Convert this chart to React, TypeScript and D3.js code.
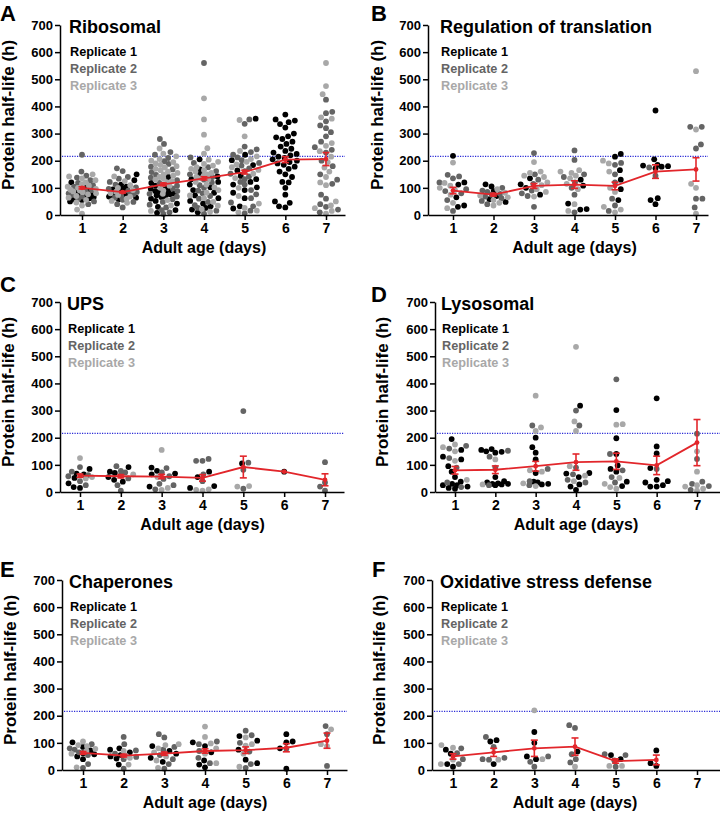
import { useEffect, useRef } from 'react';
import * as d3 from 'd3';

// ---- shared axis / legend values ----
const days = [1, 2, 3, 4, 5, 6, 7];
const yTicks = [0, 100, 200, 300, 400, 500, 600, 700];
const thresholdHours = 216;
const replicateLabels = ['Replicate 1', 'Replicate 2', 'Replicate 3'];
const replicateColors = ['#000000', '#646464', '#a8a8a8'];

// ---- A: Ribosomal (values per day, 1..7) ----
const ribosomalRep1 = [
  [120, 100, 92, 86, 80, 75, 70, 66, 62, 58, 55, 50],
  [150, 128, 112, 104, 98, 94, 90, 86, 82, 78, 75, 72, 68, 64, 58],
  [140, 118, 108, 102, 97, 92, 88, 85, 82, 79, 76, 73, 70, 66, 60, 52, 42, 30, 18, 8],
  [205, 168, 152, 142, 132, 122, 112, 102, 92, 82, 72, 62, 52, 42, 32, 26, 20, 10],
  [355, 222, 202, 184, 164, 144, 132, 122, 112, 102, 92, 82, 62, 32, 24],
  [370, 352, 348, 342, 335, 322, 300, 290, 286, 280, 270, 262, 252, 244, 236, 230, 225, 220, 215, 210, 205, 200, 195, 190, 185, 178, 170, 160, 150, 140, 122, 120, 100, 75, 50, 45, 32, 28],
  [],
];
const ribosomalRep2 = [
  [222, 160, 145, 138, 128, 118, 110, 104, 98, 92, 86, 80, 74, 68, 60, 50, 40],
  [172, 162, 140, 134, 122, 112, 102, 96, 90, 85, 80, 76, 70, 64, 56, 48, 40, 28],
  [280, 262, 232, 222, 210, 198, 188, 178, 168, 158, 148, 138, 128, 118, 108, 98, 88, 78, 68, 58, 48, 38, 28, 18, 10, 4],
  [560, 212, 192, 176, 162, 150, 140, 130, 120, 110, 100, 90, 80, 70, 60, 48, 36, 26, 16, 5],
  [352, 336, 252, 242, 232, 222, 212, 202, 192, 182, 172, 162, 152, 142, 132, 122, 112, 92, 76, 62, 46, 32, 16, 6],
  [],
  [425, 380, 375, 345, 330, 320, 305, 290, 270, 250, 240, 230, 200, 180, 150, 130, 115, 75, 60, 40, 30, 20, 10],
];
const ribosomalRep3 = [
  [150, 142, 135, 128, 120, 114, 108, 104, 100, 96, 93, 90, 87, 84, 80, 76, 70, 64, 56, 46, 35, 20, 5],
  [142, 125, 110, 100, 92, 86, 80, 74, 68, 60, 52, 45],
  [245, 226, 216, 206, 200, 195, 190, 185, 180, 175, 170, 165, 160, 155, 150, 145, 140, 135, 130, 125, 120, 114, 108, 100, 90, 78, 55, 35, 15],
  [430, 352, 296, 246, 226, 204, 196, 188, 182, 176, 170, 165, 160, 155, 150, 145, 140, 135, 130, 122, 112, 102, 92, 82, 72, 62, 48, 34, 22, 12],
  [350, 290, 236, 216, 206, 196, 186, 176, 166, 152, 136, 100, 70, 42, 26, 16, 10],
  [],
  [560, 475, 445, 360, 355, 265, 255, 235, 215, 195, 175, 160, 140, 120, 110, 50, 35, 25, 15, 5],
];
const ribosomalMean = [100, 84, 113, 135, 158, 204, 206];
const ribosomalSem = [4, 3, 5, 6, 7, 11, 24];

// ---- B: Regulation of translation ----
const translationRep1 = [
  [218, 120, 112, 65, 35, 30],
  [113, 105, 88, 70, 58, 48],
  [135, 113, 100, 75],
  [130, 108, 42, 22, 20],
  [225, 215, 165, 130, 95, 55],
  [385, 205, 185, 182, 180, 178, 172, 62, 55, 40],
  [],
];
const translationRep2 = [
  [148, 142, 135, 120, 95, 88, 80, 55, 15],
  [100, 90, 85, 78, 75, 68, 62, 52, 40],
  [228, 150, 130, 115, 90, 80, 70, 30],
  [238, 203, 150, 140, 120, 100, 75, 10],
  [192, 185, 150, 120, 60, 35, 15],
  [175, 145],
  [325, 325, 260, 245, 60, 60, 28],
];
const translationRep3 = [
  [193, 118, 108, 100, 92, 75, 45, 25],
  [95, 82, 72, 65, 55, 45, 35],
  [195, 160, 155, 145, 140, 120, 110, 95, 85, 68],
  [165, 160, 155, 145, 135, 115, 95, 40, 15],
  [200, 190, 160, 100, 85, 30, 20, 10],
  [],
  [530, 315, 115, 100, 5],
];
const translationMean = [90, 75, 107, 112, 107, 160, 168];
const translationSem = [12, 5, 9, 14, 14, 25, 43];

// ---- C: UPS ----
const upsRep1 = [
  [85, 68, 65, 52, 32, 18, 15],
  [92, 75, 70, 55, 45, 38],
  [90, 78, 68, 65, 20],
  [75, 55, 22, 15],
  [105],
  [75],
  [],
];
const upsRep2 = [
  [92, 75, 62, 58, 40, 25],
  [95, 78, 72, 62, 50, 25, 5],
  [88, 72, 58, 48, 30, 25, 10],
  [122, 115, 115, 65, 40],
  [298, 108, 82, 12],
  [],
  [110, 35, 5, 20],
];
const upsRep3 = [
  [125, 60, 55, 50],
  [65],
  [155, 55, 15, 8],
  [10, 8, 5],
  [22, 20],
  [],
  [],
];
const upsMean = [60, 58, 57, 52, 92, 75, 45];
const upsSem = [6, 6, 8, 12, 40, 0, 22];

// ---- D: Lysosomal ----
const lysosomalRep1 = [
  [195, 155, 130, 120, 95, 75, 55, 38, 30, 25, 25, 20, 15, 12],
  [158, 155, 150, 148, 145, 55, 40, 35, 32, 30, 30, 28, 25],
  [200, 165, 145, 120, 70, 38, 35, 30, 28],
  [318, 70, 68, 55, 28, 20, 8],
  [302, 198, 140, 98, 85, 75, 38, 22],
  [345, 168, 142, 88, 45, 40, 35, 25, 20, 20],
  [],
];
const lysosomalRep2 = [
  [170, 160, 125, 90, 35, 18],
  [152, 130, 90, 25],
  [245, 85, 40, 25],
  [300, 245, 90, 65, 45, 35],
  [415, 140, 80, 55, 35],
  [85],
  [215, 122, 38, 30, 22, 8],
];
const lysosomalRep3 = [
  [175, 165, 150, 115, 45],
  [120, 28],
  [355, 238, 225, 80, 75, 32, 22],
  [535, 260, 225, 95, 60, 40],
  [250, 248, 52, 30, 18, 12],
  [],
  [150, 75, 25, 20, 12, 5],
];
const lysosomalMean = [80, 82, 95, 110, 113, 98, 182];
const lysosomalSem = [14, 14, 18, 30, 30, 34, 85];

// ---- E: Chaperones ----
const chaperoneRep1 = [
  [102, 85, 72, 62, 58, 50, 40],
  [80, 75, 65, 55, 50, 42, 20],
  [88, 70, 60, 45, 30],
  [102, 88, 65, 35, 20, 10],
  [125, 108, 75, 38, 25],
  [132, 105, 102, 80, 5],
  [],
];
const chaperoneRep2 = [
  [95, 80, 75, 65, 55, 22, 8],
  [122, 95, 72, 60, 48, 40, 5],
  [132, 120, 85, 75, 55, 40, 22, 5],
  [105, 95, 70, 45, 25],
  [145, 128, 100, 68, 22, 8],
  [78],
  [162, 132, 15],
];
const chaperoneRep3 = [
  [105, 92, 88, 78, 70, 60, 10],
  [70, 52, 45, 20],
  [95, 92, 80, 65, 50, 35, 8],
  [160, 122, 98, 80, 60, 25],
  [120, 95, 90, 60, 12],
  [],
  [150, 95, 88],
];
const chaperoneMean = [63, 53, 60, 70, 73, 82, 108];
const chaperoneSem = [5, 5, 6, 8, 12, 15, 28];

// ---- F: Oxidative stress defense ----
const oxidativeRep1 = [
  [75, 60, 22, 12],
  [110, 105, 22],
  [140, 100, 50, 40],
  [68],
  [55, 40],
  [72, 25, 15],
  [],
];
const oxidativeRep2 = [
  [80, 62, 40, 22],
  [122, 85, 45, 40, 38],
  [50, 30, 12],
  [165, 155, 58, 40, 28],
  [58, 55, 35, 12],
  [],
  [],
];
const oxidativeRep3 = [
  [92, 82, 38, 22],
  [38],
  [220, 40],
  [12],
  [15, 15],
  [],
  [],
];
const oxidativeMean = [50, 65, 80, 86, 33, 37, null];
const oxidativeSem = [10, 15, 30, 32, 8, 18, null];

const FONT = '"Liberation Sans", Arial, Helvetica, sans-serif';
const RED = '#e2262b';
const R = 2.9;

type PanelCfg = {
  letter: string;
  title: string;
  reps: number[][][];
  mean: (number | null)[];
  sem: (number | null)[];
  ax: number;
  x1: number;
  x7: number;
  xEnd: number;
  y0: number;
  letterX: number;
  letterY: number;
  titleX: number;
  yTitleX: number;
};

const panels: PanelCfg[] = [
  { letter: 'A', title: 'Ribosomal', reps: [ribosomalRep1, ribosomalRep2, ribosomalRep3], mean: ribosomalMean, sem: ribosomalSem,
    ax: 60, x1: 82, x7: 326, xEnd: 345, y0: 215, letterX: 0, letterY: 20.5, titleX: 69, yTitleX: 14 },
  { letter: 'B', title: 'Regulation of translation', reps: [translationRep1, translationRep2, translationRep3], mean: translationMean, sem: translationSem,
    ax: 428, x1: 453, x7: 696, xEnd: 708, y0: 215, letterX: 371, letterY: 20.5, titleX: 440, yTitleX: 383 },
  { letter: 'C', title: 'UPS', reps: [upsRep1, upsRep2, upsRep3], mean: upsMean, sem: upsSem,
    ax: 60, x1: 80, x7: 325, xEnd: 344, y0: 492, letterX: 0, letterY: 292, titleX: 67, yTitleX: 14 },
  { letter: 'D', title: 'Lysosomal', reps: [lysosomalRep1, lysosomalRep2, lysosomalRep3], mean: lysosomalMean, sem: lysosomalSem,
    ax: 435, x1: 455, x7: 697, xEnd: 720, y0: 492, letterX: 371, letterY: 302, titleX: 441, yTitleX: 388 },
  { letter: 'E', title: 'Chaperones', reps: [chaperoneRep1, chaperoneRep2, chaperoneRep3], mean: chaperoneMean, sem: chaperoneSem,
    ax: 62, x1: 83, x7: 327, xEnd: 347, y0: 770, letterX: 0, letterY: 577, titleX: 69, yTitleX: 16 },
  { letter: 'F', title: 'Oxidative stress defense', reps: [oxidativeRep1, oxidativeRep2, oxidativeRep3], mean: oxidativeMean, sem: oxidativeSem,
    ax: 432, x1: 453, x7: 697, xEnd: 720, y0: 770, letterX: 372, letterY: 577, titleX: 440, yTitleX: 385 },
];

type Dot = { v: number; rep: number; x: number; y: number };

// simple deterministic beeswarm: place points (sorted by value) nearest to centre without overlap
function swarm(items: { v: number; rep: number }[], cx: number, y: (v: number) => number, maxW: number): Dot[] {
  const sorted = [...items].sort((a, b) => a.v - b.v);
  const placed: Dot[] = [];
  let lastSign = 1;
  sorted.forEach((it) => {
    const py = y(it.v);
    let chosen: number | null = null;
    for (let diam = 2.2 * R; diam > 1 && chosen === null; diam *= 0.8) {
      const near = placed.filter((p) => Math.abs(p.y - py) < diam);
      const cands = [0];
      near.forEach((p) => {
        const dx = Math.sqrt(diam * diam - (p.y - py) ** 2);
        cands.push(p.x - cx + dx, p.x - cx - dx);
      });
      const ok = cands.filter(
        (c) => Math.abs(c) <= maxW && near.every((p) => Math.hypot(p.x - (cx + c), p.y - py) >= diam - 0.01)
      );
      if (ok.length) {
        ok.sort((a, b) => Math.abs(a) - Math.abs(b) || (a * lastSign < b * lastSign ? -1 : 1));
        chosen = ok[0];
      }
    }
    if (chosen === null) chosen = 0;
    if (chosen !== 0) lastSign = chosen > 0 ? 1 : -1;
    placed.push({ ...it, x: cx + chosen, y: py });
  });
  return placed;
}

function Axis({ axis }: { axis: (g: d3.Selection<SVGGElement, unknown, null, undefined>) => void }) {
  const ref = useRef<SVGGElement | null>(null);
  useEffect(() => {
    const g = d3.select(ref.current as SVGGElement);
    g.selectAll('*').remove();
    g.call(axis);
    g.attr('font-family', FONT).attr('font-size', 13).attr('font-weight', 'bold');
    g.selectAll('text').attr('fill', '#000');
    g.selectAll('line,path').attr('stroke', '#000').attr('stroke-width', 1.5);
  });
  return <g ref={ref} />;
}

function Panel({ cfg }: { cfg: PanelCfg }) {
  const y = d3.scaleLinear().domain([0, 700]).range([cfg.y0, cfg.y0 - 190]);
  const step = (cfg.x7 - cfg.x1) / 6;
  const x = d3
    .scaleLinear()
    .domain([1 - (cfg.x1 - cfg.ax) / step, 7 + (cfg.xEnd - cfg.x7) / step])
    .range([cfg.ax, cfg.xEnd]);

  const dots: Dot[] = [];
  days.forEach((d, i) => {
    const items: { v: number; rep: number }[] = [];
    cfg.reps.forEach((rep, r) => rep[i].forEach((v) => items.push({ v, rep: r })));
    dots.push(...swarm(items, x(d), y, 14.5));
  });
  dots.sort((a, b) => a.rep - b.rep);

  const meanPts = days
    .map((d, i) => ({ d, m: cfg.mean[i], s: cfg.sem[i] }))
    .filter((p) => p.m !== null) as { d: number; m: number; s: number }[];
  const line = d3
    .line<{ d: number; m: number }>()
    .x((p) => x(p.d))
    .y((p) => y(p.m));

  const yAxis = (g: d3.Selection<SVGGElement, unknown, null, undefined>) =>
    g
      .attr('transform', `translate(${cfg.ax},0)`)
      .call(d3.axisLeft(y).tickValues(yTicks).tickSize(5).tickSizeOuter(0).tickPadding(2));
  const xAxis = (g: d3.Selection<SVGGElement, unknown, null, undefined>) =>
    g
      .attr('transform', `translate(0,${cfg.y0})`)
      .call(d3.axisBottom(x).tickValues(days).tickFormat(d3.format('d')).tickSize(5).tickSizeOuter(0).tickPadding(3))
      .call((s) => s.selectAll('text').attr('font-size', 14));

  const top = cfg.y0 - 190;
  return (
    <g>
      <text x={cfg.letterX} y={cfg.letterY} fontFamily={FONT} fontWeight="bold" fontSize={22}>
        {cfg.letter}
      </text>
      <line
        x1={cfg.ax + 2}
        x2={cfg.xEnd}
        y1={y(thresholdHours)}
        y2={y(thresholdHours)}
        stroke="#2b2bd6"
        strokeWidth={1.1}
        strokeDasharray="1.2 1.3"
      />
      {dots.map((p, i) => (
        <circle key={i} cx={p.x} cy={p.y} r={R} fill={replicateColors[p.rep]} />
      ))}
      <Axis axis={yAxis} />
      <Axis axis={xAxis} />
      <path d={line(meanPts) || ''} fill="none" stroke={RED} strokeWidth={1.8} />
      {meanPts.map((p, i) =>
        p.s > 0 ? (
          <g key={i} stroke={RED} strokeWidth={1.6}>
            <line x1={x(p.d)} x2={x(p.d)} y1={y(p.m - p.s)} y2={y(p.m + p.s)} />
            <line x1={x(p.d) - 3.5} x2={x(p.d) + 3.5} y1={y(p.m - p.s)} y2={y(p.m - p.s)} />
            <line x1={x(p.d) - 3.5} x2={x(p.d) + 3.5} y1={y(p.m + p.s)} y2={y(p.m + p.s)} />
          </g>
        ) : null
      )}
      {meanPts.map((p, i) => (
        <circle key={'m' + i} cx={x(p.d)} cy={y(p.m)} r={2.4} fill={RED} />
      ))}
      <text x={cfg.titleX} y={top + 8} fontFamily={FONT} fontWeight="bold" fontSize={18}>
        {cfg.title}
      </text>
      {replicateLabels.map((lab, i) => (
        <text key={lab} x={cfg.titleX + 1} y={top + 31 + i * 17} fontFamily={FONT} fontWeight="bold" fontSize={12.7} fill={replicateColors[i]}>
          {lab}
        </text>
      ))}
      <text
        x={(x(1) + x(7)) / 2}
        y={cfg.y0 + 38}
        textAnchor="middle"
        fontFamily={FONT}
        fontWeight="bold"
        fontSize={16}
      >
        Adult age (days)
      </text>
      <text
        transform={`translate(${cfg.yTitleX},${cfg.y0 - 100}) rotate(-90)`}
        textAnchor="middle"
        fontFamily={FONT}
        fontWeight="bold"
        fontSize={17}
      >
        Protein half-life (h)
      </text>
    </g>
  );
}

export default function App() {
  return (
    <svg
      width={720}
      height={813}
      viewBox="0 0 720 813"
      style={{ position: 'absolute', left: 0, top: 0, background: '#fff' }}
    >
      <rect width={720} height={813} fill="#fff" />
      {panels.map((p) => (
        <Panel key={p.letter} cfg={p} />
      ))}
    </svg>
  );
}
